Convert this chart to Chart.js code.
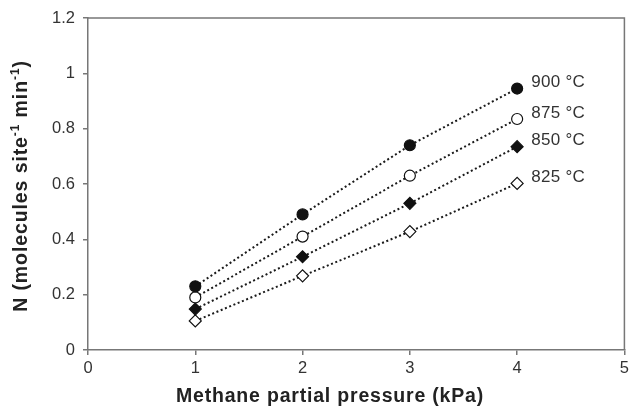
<!DOCTYPE html>
<html>
<head>
<meta charset="utf-8">
<script src="https://cdn.jsdelivr.net/npm/chart.js@4/dist/chart.umd.min.js"></script>
<style>
  html, body { margin: 0; padding: 0; background: #fff; overflow: hidden; }
  #wrap { width: 629px; height: 409px; overflow: hidden; }
</style>
</head>
<body>
<div id="wrap"><canvas id="chart" width="633" height="409"></canvas></div>
<script>
// methane partial pressure, kPa
const pressures = [1, 2, 3, 4];
const temps = ["900 °C", "875 °C", "850 °C", "825 °C"];
const n900 = [0.23, 0.49, 0.74, 0.945];
const n875 = [0.19, 0.41, 0.63, 0.835];
const n850 = [0.148, 0.337, 0.53, 0.735];
const n825 = [0.105, 0.268, 0.428, 0.602];
const xTicks = [0, 1, 2, 3, 4, 5];
const yTicks = [0, 0.2, 0.4, 0.6, 0.8, 1, 1.2];
const xTitle = "Methane partial pressure (kPa)";
// y title pieces: [text, superscript?]
const yTitle = [["N (molecules site", false], ["-1", true], [" min", false], ["-1", true], [")", false]];

const FONT = "'Liberation Sans', Arial, Helvetica, sans-serif";

const series = [n900, n875, n850, n825];
const styles = [
  { pointStyle: "circle", fill: "#111", radius: 5.5 },
  { pointStyle: "circle", fill: "#fff", radius: 5.5 },
  { pointStyle: "rectRot", fill: "#111", radius: 6 },
  { pointStyle: "rectRot", fill: "#fff", radius: 6 }
];

const datasets = series.map((vals, i) => ({
  label: temps[i],
  data: pressures.map((p, j) => ({ x: p, y: vals[j] })),
  borderColor: "#1a1a1a",
  borderWidth: 2,
  borderDash: [2, 2.6],
  pointStyle: styles[i].pointStyle,
  pointRadius: styles[i].radius,
  pointBackgroundColor: styles[i].fill,
  pointBorderColor: "#111",
  pointBorderWidth: 1.2,
  tension: 0,
  fill: false
}));

// frame on top/right, axis titles, temperature labels next to last point
const extras = {
  id: "extras",
  afterDatasetsDraw(chart) {
    const { ctx, chartArea: a } = chart;
    ctx.save();
    ctx.strokeStyle = "#777";
    ctx.lineWidth = 1.5;
    ctx.beginPath();
    ctx.moveTo(a.left, a.top);
    ctx.lineTo(a.right, a.top);
    ctx.lineTo(a.right, a.bottom);
    ctx.stroke();

    // temperature labels
    ctx.fillStyle = "#333";
    ctx.font = "17px " + FONT;
    ctx.letterSpacing = "0.3px";
    ctx.textBaseline = "middle";
    ctx.textAlign = "left";
    chart.data.datasets.forEach((ds, i) => {
      const meta = chart.getDatasetMeta(i);
      const pt = meta.data[meta.data.length - 1];
      ctx.fillText(ds.label, pt.x + 14, pt.y - 6);
    });

    // x title
    ctx.fillStyle = "#222";
    ctx.font = "bold 19.5px " + FONT;
    ctx.letterSpacing = "0.8px";
    ctx.textAlign = "center";
    ctx.textBaseline = "alphabetic";
    ctx.fillText(xTitle, 330, 402);

    // y title, rotated, with superscripts
    ctx.letterSpacing = "0.9px";
    ctx.translate(27, 186);
    ctx.rotate(-Math.PI / 2);
    const big = "bold 19.5px " + FONT;
    const small = "bold 12px " + FONT;
    let total = 0;
    yTitle.forEach(([t, sup]) => {
      ctx.font = sup ? small : big;
      total += ctx.measureText(t).width;
    });
    let x = -total / 2;
    ctx.textAlign = "left";
    yTitle.forEach(([t, sup]) => {
      ctx.font = sup ? small : big;
      ctx.fillText(t, x, sup ? -8 : 0);
      x += ctx.measureText(t).width;
    });
    ctx.restore();
  }
};

new Chart(document.getElementById("chart"), {
  type: "line",
  data: { datasets },
  plugins: [extras],
  options: {
    responsive: false,
    animation: false,
    layout: { padding: { top: 18, right: 0, left: 0, bottom: 0 } },
    plugins: { legend: { display: false }, tooltip: { enabled: false } },
    scales: {
      x: {
        type: "linear",
        min: 0,
        max: 5,
        afterBuildTicks(scale) { scale.ticks = xTicks.map(v => ({ value: v })); },
        afterFit(scale) { scale.height = 59; },
        ticks: {
          color: "#333",
          font: { family: FONT, size: 16.5 },
          padding: 4
        },
        grid: { drawOnChartArea: false, tickLength: 5, color: "#777", lineWidth: 1.5 },
        border: { color: "#777", width: 1.5 }
      },
      y: {
        type: "linear",
        min: 0,
        max: 1.2,
        afterBuildTicks(scale) { scale.ticks = yTicks.map(v => ({ value: v })); },
        afterFit(scale) { scale.width = 88; },
        ticks: {
          color: "#333",
          font: { family: FONT, size: 16.5 },
          padding: 8,
          callback: v => String(Math.round(v * 10) / 10)
        },
        grid: { drawOnChartArea: false, tickLength: 5, color: "#777", lineWidth: 1.5 },
        border: { color: "#777", width: 1.5 }
      }
    }
  }
});
</script>
</body>
</html>
